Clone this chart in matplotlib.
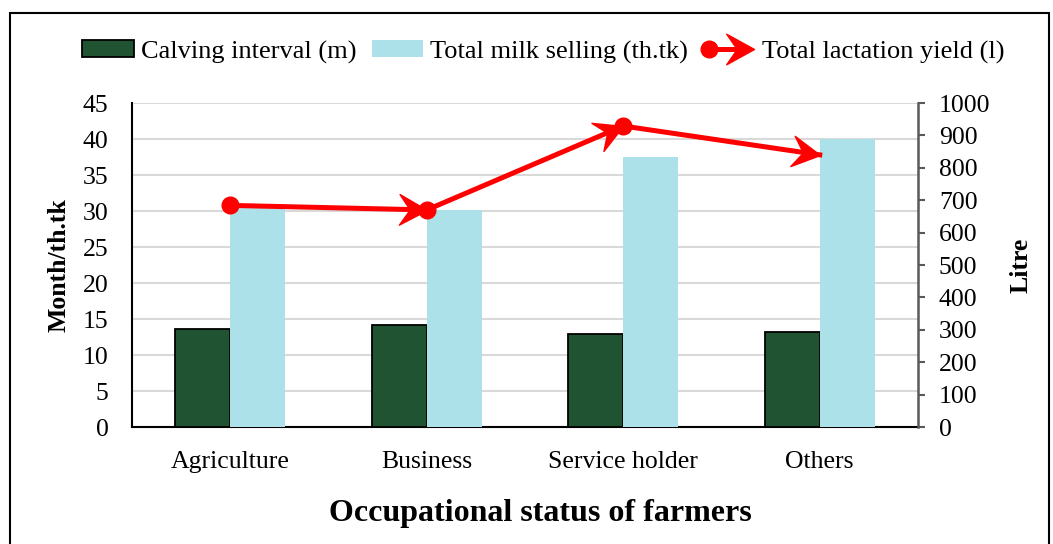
import numpy as np
import matplotlib
matplotlib.use("Agg")
import matplotlib.pyplot as plt
from matplotlib.patches import Rectangle, Patch
from matplotlib.lines import Line2D
from matplotlib.markers import MarkerStyle
from matplotlib.path import Path
from matplotlib.transforms import Affine2D
from matplotlib.legend_handler import HandlerBase

plt.rcParams['font.family'] = ['Liberation Serif', 'DejaVu Serif']

categories = ['Agriculture', 'Business', 'Service holder', 'Others']
calving_interval = [13.6, 14.2, 12.9, 13.2]
milk_selling = [30.4, 30.1, 37.5, 40.0]
lactation_yield = [684, 670, 929, 840]

left_ticks = [0, 5, 10, 15, 20, 25, 30, 35, 40, 45]
right_ticks = [0, 100, 200, 300, 400, 500, 600, 700, 800, 900, 1000]

GREEN = '#1f5332'
BLUE = '#ade1ea'
RED = '#ff0000'
FS = 18.5

W, H = 1053, 544
fig = plt.figure(figsize=(W / 100, H / 100), dpi=100)
ax = fig.add_axes([132 / W, 1 - 427 / H, (918 - 132) / W, (427 - 103) / H])
ax2 = ax.twinx()

x = np.arange(len(categories))
bw = 0.28
ax.bar(x - bw / 2, calving_interval, bw, color=GREEN, edgecolor='black', linewidth=1.3, zorder=3)
ax.bar(x + bw / 2, milk_selling, bw, color=BLUE, edgecolor='none', zorder=3)

ax.set_xlim(-0.5, len(categories) - 0.5)
ax.set_ylim(0, 45)
ax.set_yticks(left_ticks)
ax.set_xticks(x)
ax.set_xticklabels(categories, fontsize=FS)
ax.tick_params(axis='y', length=0, pad=17, labelsize=FS)
ax.tick_params(axis='x', length=0, pad=17)
ax.grid(axis='y', color='#d9d9d9', linewidth=1.5, zorder=0)
ax.set_axisbelow(True)
for s in ['top', 'right']:
    ax.spines[s].set_visible(False)
ax.spines['left'].set_linewidth(1.5)
ax.spines['bottom'].set_linewidth(1.5)
ax.set_ylabel('Month/th.tk', fontsize=FS, fontweight='bold')
ax.yaxis.set_label_coords((59 - 132) / 786, 0.5)
ax.set_xlabel('Occupational status of farmers', fontsize=23, fontweight='bold')
ax.xaxis.set_label_coords((540 - 132) / 786, -(514 - 427) / 324)
ax.xaxis.label.set_verticalalignment('center')
ax.yaxis.label.set_verticalalignment('center')

ax2.set_ylim(0, 1000)
ax2.set_yticks(right_ticks)
ax2.tick_params(axis='y', direction='out', length=5, width=1.5, color='#595959', pad=10, labelsize=FS)
for s in ['top', 'left', 'bottom']:
    ax2.spines[s].set_visible(False)
ax2.spines['right'].set_color('#595959')
ax2.spines['right'].set_linewidth(1.8)
ax2.set_ylabel('Litre', fontsize=FS, fontweight='bold', labelpad=14)


def arrow_marker(angle):
    verts = [(0, 0), (-1, 0.55), (-0.62, 0), (-1, -0.55), (0, 0)]
    codes = [Path.MOVETO, Path.LINETO, Path.LINETO, Path.LINETO, Path.CLOSEPOLY]
    return MarkerStyle(Path(verts, codes), transform=Affine2D().rotate_deg(angle))


ax2.plot(x, lactation_yield, color=RED, linewidth=3.6, zorder=4)
ax2.plot(x[:-1], lactation_yield[:-1], 'o', color=RED, markersize=12, zorder=5)
disp = ax2.transData.transform(np.column_stack([x, lactation_yield]))
for i in range(1, len(x)):
    dx, dy = disp[i] - disp[i - 1]
    ang = np.degrees(np.arctan2(dy, dx))
    ax2.plot([x[i]], [lactation_yield[i]], marker=arrow_marker(ang), markersize=40,
             color=RED, linestyle='none', zorder=5)


class HandlerArrowLine(HandlerBase):
    def create_artists(self, legend, orig_handle, xdescent, ydescent, width, height, fontsize, trans):
        y = height / 2 - ydescent
        x0 = -xdescent + 4
        x1 = -xdescent + width - 1
        line = Line2D([x0, x1 - 10], [y, y], color=RED, lw=3.6)
        c = Line2D([x0], [y], marker='o', markersize=12, color=RED, linestyle='none')
        a = Line2D([x1], [y], marker=arrow_marker(0), markersize=40, color=RED, linestyle='none')
        for art in (line, c, a):
            art.set_transform(trans)
        return [line, c, a]


h1 = Patch(facecolor=GREEN, edgecolor='black', linewidth=1.3)
h2 = Patch(facecolor=BLUE, edgecolor='none')
h3 = Line2D([], [], color=RED)
fig.legend([h1, h2, h3],
           ['Calving interval (m)', 'Total milk selling (th.tk)', 'Total lactation yield (l)'],
           handler_map={h3: HandlerArrowLine()},
           loc='center', bbox_to_anchor=(0.516, 1 - 52 / H), ncol=3, frameon=False,
           fontsize=19, handlelength=1.95, handleheight=0.6, handletextpad=0.25,
           columnspacing=0.6)

border = Rectangle((10 / W, -0.05), (1049 - 10) / W, (1 - 13 / H) + 0.05,
                   transform=fig.transFigure, fill=False, edgecolor='black',
                   linewidth=1.5, clip_on=False)
fig.add_artist(border)

fig.savefig('out.png', dpi=100)
